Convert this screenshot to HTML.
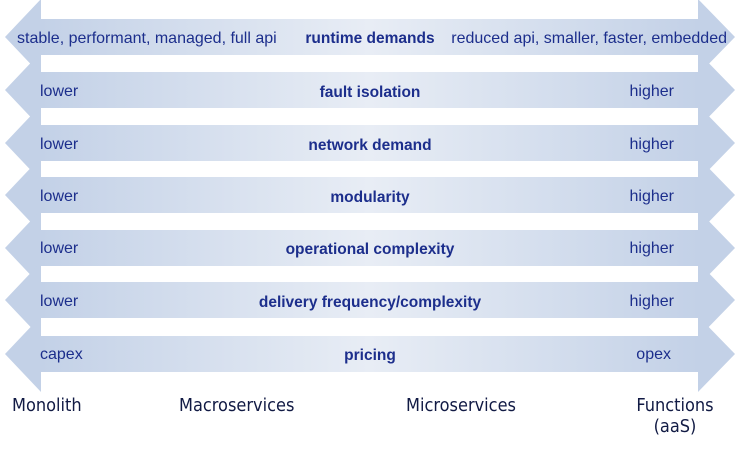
<!DOCTYPE html>
<html><head><style>
body{margin:0;background:#fff;}
svg{display:block;}
.t{font-family:"Liberation Sans",sans-serif;font-size:16px;fill:#1c2e8c;}
.b{font-weight:bold;font-size:15.5px;}
.l{font-family:"DejaVu Sans Condensed","Liberation Sans",sans-serif;font-size:18px;fill:#111a44;}
</style></head><body>
<svg width="738" height="459" viewBox="0 0 738 459">
<defs>
<linearGradient id="g" x1="0" x2="1" y1="0" y2="0">
<stop offset="0" stop-color="#c3d1e7"/>
<stop offset="0.5" stop-color="#e8edf5"/>
<stop offset="1" stop-color="#c3d1e7"/>
</linearGradient>
<g id="row">
<polygon points="5,0 41,-38 41,-18 698,-18 698,-38 735,0 698,38 698,18 41,18 41,38" fill="#c3d1e7"/>
<rect x="41" y="-18" width="657" height="36" fill="url(#g)"/>
</g>
</defs>
<use href="#row" transform="translate(0,37)"/>
<use href="#row" transform="translate(0,90)"/>
<use href="#row" transform="translate(0,143)"/>
<use href="#row" transform="translate(0,195)"/>
<use href="#row" transform="translate(0,248)"/>
<use href="#row" transform="translate(0,300)"/>
<use href="#row" transform="translate(0,354)"/>

<text class="t" x="17" y="43">stable, performant, managed, full api</text>
<text class="t b" x="370" y="43" text-anchor="middle">runtime demands</text>
<text class="t" x="727" y="43" text-anchor="end">reduced api, smaller, faster, embedded</text>

<text class="t" x="40" y="96">lower</text><text class="t b" x="370" y="97" text-anchor="middle">fault isolation</text><text class="t" x="674" y="96" text-anchor="end">higher</text>
<text class="t" x="40" y="149">lower</text><text class="t b" x="370" y="150" text-anchor="middle">network demand</text><text class="t" x="674" y="149" text-anchor="end">higher</text>
<text class="t" x="40" y="201">lower</text><text class="t b" x="370" y="202" text-anchor="middle">modularity</text><text class="t" x="674" y="201" text-anchor="end">higher</text>
<text class="t" x="40" y="253">lower</text><text class="t b" x="370" y="254" text-anchor="middle">operational complexity</text><text class="t" x="674" y="253" text-anchor="end">higher</text>
<text class="t" x="40" y="306">lower</text><text class="t b" x="370" y="307" text-anchor="middle">delivery frequency/complexity</text><text class="t" x="674" y="306" text-anchor="end">higher</text>
<text class="t" x="40" y="359">capex</text><text class="t b" x="370" y="360" text-anchor="middle">pricing</text><text class="t" x="671" y="359" text-anchor="end">opex</text>

<text class="l" x="12" y="411">Monolith</text>
<text class="l" x="179" y="411">Macroservices</text>
<text class="l" x="406" y="411">Microservices</text>
<text class="l" x="675" y="411" text-anchor="middle">Functions</text>
<text class="l" x="675" y="432" text-anchor="middle">(aaS)</text>
</svg>
</body></html>
